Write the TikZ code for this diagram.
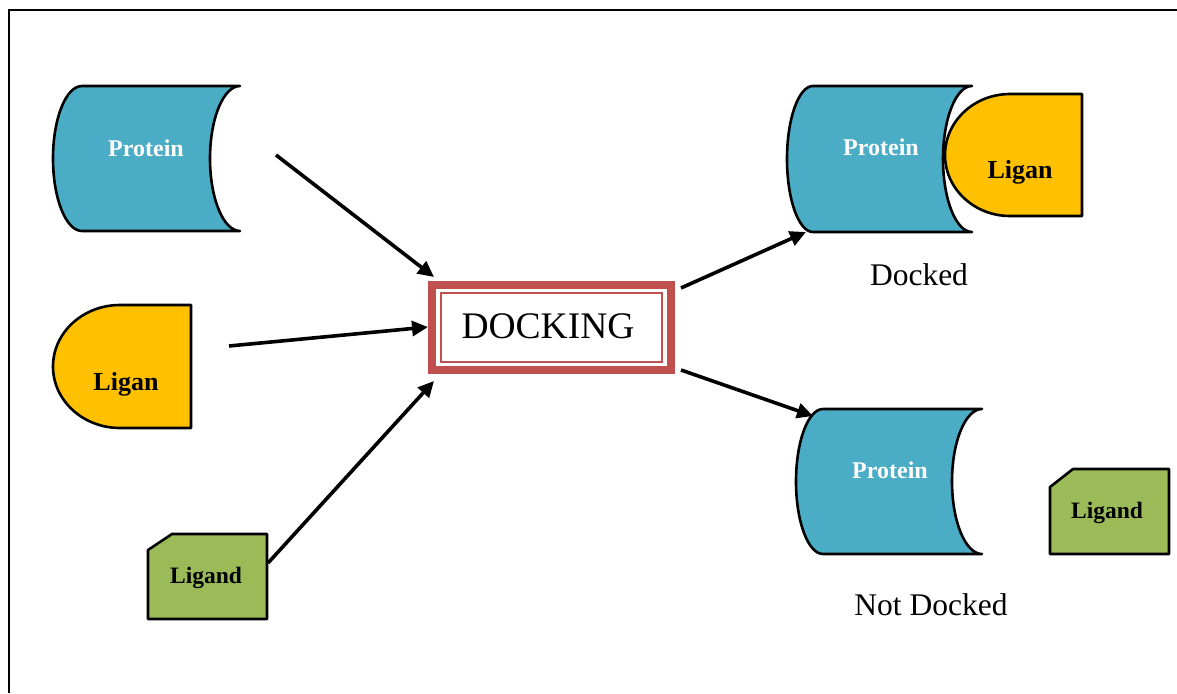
\documentclass[tikz,border=0pt]{standalone}
\usepackage{fontspec}
\setmainfont{Liberation Serif}
\usetikzlibrary{arrows.meta}
\definecolor{protblue}{HTML}{4BACC6}
\definecolor{ligyellow}{HTML}{FFC000}
\definecolor{liggreen}{HTML}{9BBB59}
\definecolor{dockred}{HTML}{C0504D}
\tikzset{
  shapeline/.style={draw=black, line width=2.6pt, line join=round},
  conn/.style={line width=3.6pt, -{Triangle[length=16pt,width=15pt]}},
  prottext/.style={anchor=base, text=white, font=\fontsize{24}{27}\selectfont\bfseries},
  ligtext/.style={anchor=base, text=black, font=\fontsize{26}{29}\selectfont\bfseries},
  ligdtext/.style={anchor=base, text=black, font=\fontsize{23.5}{26}\selectfont\bfseries},
  captext/.style={anchor=base, text=black, font=\fontsize{31.5}{34}\selectfont},
}
\begin{document}
\begin{tikzpicture}[x=1pt,y=-1pt]
\useasboundingbox (0,0) rectangle (1177,693);
% frame
\draw[line width=2.5pt] (9,693) -- (9,10) -- (1177,10);

% Protein 1
\path[shapeline, fill=protblue] (82,86) -- (240,86)
  arc[start angle=90, end angle=270, x radius=30pt, y radius=72.5pt]
  -- (82,231)
  arc[start angle=270, end angle=90, x radius=29pt, y radius=72.5pt] -- cycle;
\node[prottext] (p1) at (146,156) {Protein};

% Ligan 1
\path[shapeline, fill=ligyellow] (120,305) -- (191,305) -- (191,428) -- (120,428)
  arc[start angle=270, end angle=90, x radius=67pt, y radius=61.5pt] -- cycle;
\node[ligtext] (l1) at (126,390) {Ligan};

% Ligand 1
\path[shapeline, fill=liggreen] (172,534) -- (267,534) -- (267,619) -- (148,619) -- (148,550) -- cycle;
\node[ligdtext] (g1) at (206,583) {Ligand};

% DOCKING box
\draw[dockred, line width=8pt] (432,285) rectangle (671,370);
\draw[dockred, line width=2.5pt] (441,293) rectangle (662,362);
\node[captext, font=\fontsize{37.5}{41}\selectfont] (dock) at (548,338) {DOCKING};

% Protein 2 (docked)
\path[shapeline, fill=protblue] (813,86) -- (972,86)
  arc[start angle=90, end angle=270, x radius=29pt, y radius=73pt]
  -- (813,232)
  arc[start angle=270, end angle=90, x radius=26pt, y radius=73pt] -- cycle;
\node[prottext] (p2) at (881,155) {Protein};

% Ligan 2
\path[shapeline, fill=ligyellow] (1010,94) -- (1082,94) -- (1082,216) -- (1010,216)
  arc[start angle=270, end angle=90, x radius=65pt, y radius=61pt] -- cycle;
\node[ligtext] (l2) at (1020,178) {Ligan};

\node[captext] (docked) at (919,285) {Docked};

% Protein 3 (not docked)
\path[shapeline, fill=protblue] (823,409) -- (982,409)
  arc[start angle=90, end angle=270, x radius=30pt, y radius=72.5pt]
  -- (823,554)
  arc[start angle=270, end angle=90, x radius=27pt, y radius=72.5pt] -- cycle;
\node[prottext] (p3) at (890,478) {Protein};

% Ligand 2
\path[shapeline, fill=liggreen] (1073,469) -- (1169,469) -- (1169,554) -- (1050,554) -- (1050,487) -- cycle;
\node[ligdtext] (g2) at (1107,518) {Ligand};

\node[captext] (notdocked) at (931,615) {Not Docked};

% connector endpoints
\coordinate (a1s) at (276,155);
\coordinate (a1e) at (434,277);
\coordinate (a2s) at (229,346);
\coordinate (a2e) at (428,327);
\coordinate (a3s) at (268,563);
\coordinate (a3e) at (434,381);
\coordinate (a4s) at (681,288);
\coordinate (a4e) at (806,232);
\coordinate (a5s) at (681,370);
\coordinate (a5e) at (813,416);

\draw[conn] (a1s) -- (a1e);
\draw[conn] (a2s) -- (a2e);
\draw[conn] (a3s) -- (a3e);
\draw[conn] (a4s) -- (a4e);
\draw[conn] (a5s) -- (a5e);
\end{tikzpicture}
\end{document}
